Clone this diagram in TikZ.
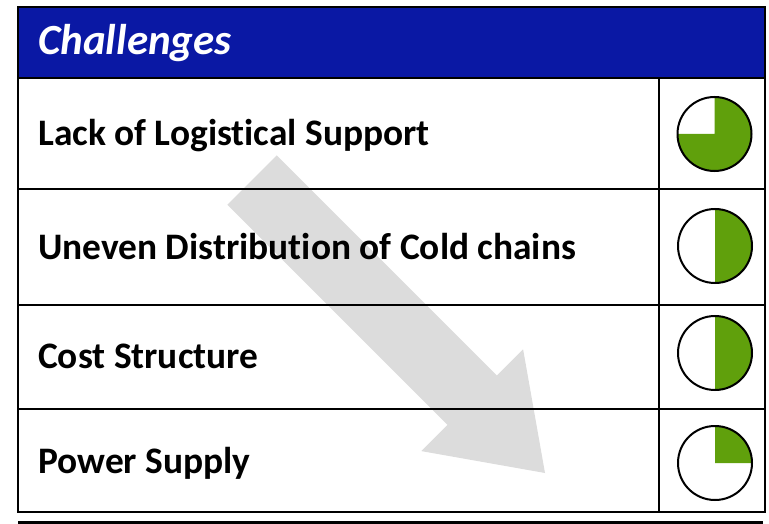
\documentclass[tikz,border=0pt]{standalone}
\usepackage{fontspec}
\setmainfont{Carlito}[Ligatures={NoCommon,NoContextual}]
\definecolor{hdrblue}{RGB}{10,24,164}
\definecolor{piegreen}{RGB}{96,160,12}
\definecolor{arrowgray}{RGB}{220,220,220}
\begin{document}
\begin{tikzpicture}[x=1pt,y=-1pt,
  cell/.style={draw=black, line width=2.2pt, inner sep=0pt, outer sep=0pt, rectangle},
  rowtext/.style={anchor=base west, inner sep=0pt, font=\bfseries\fontsize{37.4}{44}\selectfont},
  pie/.style={circle, draw=black, line width=2pt, minimum size=74pt, inner sep=0pt},
  pfill/.style={fill=piegreen}]
\useasboundingbox (0,0) rectangle (769,524);
% background arrow
\fill[arrowgray] (276.7,155.3) -- (496.9,375.5) -- (523.1,349.3) -- (545,473)
  -- (421.3,451.1) -- (447.5,424.9) -- (227.3,204.7) -- cycle;
% header
\node[cell, fill=hdrblue, minimum width=747pt, minimum height=71pt] (hdr) at (391.5,42.5) {};
\node[anchor=base west, inner sep=0pt, text=white, font=\bfseries\itshape\fontsize{43}{50}\selectfont] (title) at (38,55) {Challenges};
% rows
\node[cell, minimum width=641pt, minimum height=111pt] (c1) at (338.5,133.5) {};
\node[cell, minimum width=106pt, minimum height=111pt] (p1c) at (712,133.5) {};
\node[cell, minimum width=641pt, minimum height=116pt] (c2) at (338.5,247) {};
\node[cell, minimum width=106pt, minimum height=116pt] (p2c) at (712,247) {};
\node[cell, minimum width=641pt, minimum height=104pt] (c3) at (338.5,357) {};
\node[cell, minimum width=106pt, minimum height=104pt] (p3c) at (712,357) {};
\node[cell, minimum width=641pt, minimum height=103pt] (c4) at (338.5,460.5) {};
\node[cell, minimum width=106pt, minimum height=103pt] (p4c) at (712,460.5) {};
% texts
\node[rowtext] (t1) at (38,146) {Lack of Logistical Support};
\node[rowtext] (t2) at (38,259) {Uneven Distribution of Cold chains};
\node[rowtext] (t3) at (38,368) {Cost Structure};
\node[rowtext] (t4) at (38,473) {Power Supply};
% pies
\coordinate (q1) at (714.5,134);
\coordinate (q2) at (715,246);
\coordinate (q3) at (715,353);
\coordinate (q4) at (715,463);
\fill[pfill] (q1) -- ++(270:37) arc[start angle=270,end angle=540,radius=37] -- cycle;
\fill[pfill] (q2) -- ++(270:37) arc[start angle=270,end angle=450,radius=37] -- cycle;
\fill[pfill] (q3) -- ++(270:37) arc[start angle=270,end angle=450,radius=37] -- cycle;
\fill[pfill] (q4) -- ++(270:37) arc[start angle=270,end angle=360,radius=37] -- cycle;
\node[pie] (pie1) at (q1) {};
\node[pie] (pie2) at (q2) {};
\node[pie] (pie3) at (q3) {};
\node[pie] (pie4) at (q4) {};
% bottom rule
\coordinate (bl) at (18,522.5);
\coordinate (br) at (763,522.5);
\draw[line width=3.5pt] (bl) -- (br);
\end{tikzpicture}
\end{document}
